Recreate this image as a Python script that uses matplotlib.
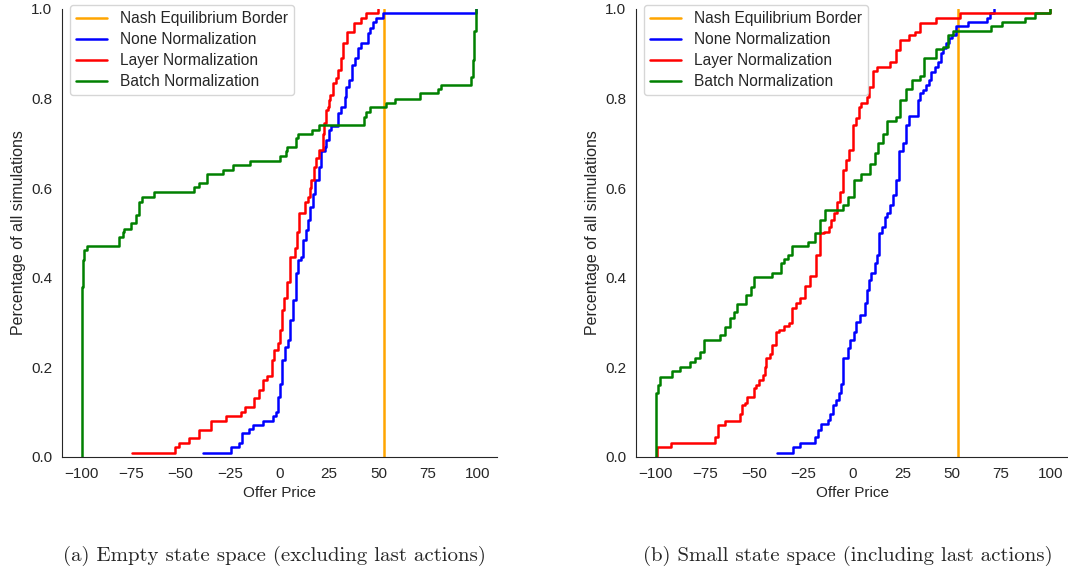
import matplotlib
matplotlib.use("Agg")
import matplotlib.pyplot as plt
import seaborn as sns

sns.set_style("white")
plt.rcParams["font.family"] = ["Liberation Sans", "DejaVu Sans"]

nash_price = 53

# (a) empty state space: step knots (offer price, cumulative share)
a_none_x = [-38.5, -24.5, -20.3, -18.9, -15.2, -13.2, -8.4, -3.4, -1.7, -0.8, 0.0, 1.4, 3.0, 4.2,
            5.1, 6.8, 8.1, 9.3, 11.0, 11.8, 13.2, 14.3, 15.5, 16.9, 18.2, 19.9, 21.1, 22.8, 23.6,
            25.0, 26.2, 29.5, 31.2, 32.9, 33.8, 35.4, 36.8, 38.0, 39.7, 41.4, 44.7, 45.6, 47.3,
            48.9, 52.3, 99.6]
a_none_y = [0.01, 0.022, 0.032, 0.053, 0.062, 0.071, 0.081, 0.092, 0.101, 0.135, 0.164, 0.217,
            0.246, 0.261, 0.306, 0.35, 0.41, 0.44, 0.447, 0.484, 0.507, 0.529, 0.559, 0.588, 0.618,
            0.648, 0.682, 0.693, 0.708, 0.73, 0.739, 0.767, 0.782, 0.804, 0.827, 0.842, 0.875,
            0.89, 0.912, 0.923, 0.946, 0.957, 0.972, 0.981, 0.99, 1.0]

a_layer_x = [-74.6, -52.7, -51.0, -45.9, -40.8, -34.6, -27.0, -19.4, -17.7, -12.7, -10.5, -8.4,
             -6.4, -3.7, -2.9, -0.8, 0.0, 1.4, 2.2, 3.9, 5.1, 7.6, 8.8, 10.1, 12.7, 14.3, 15.2,
             16.0, 17.2, 18.6, 19.9, 21.9, 22.3, 23.3, 24.5, 25.0, 25.7, 27.0, 28.4, 29.5, 30.9,
             32.1, 34.1, 37.5, 41.4, 43.5, 49.8]
a_layer_y = [0.01, 0.022, 0.032, 0.042, 0.06, 0.081, 0.092, 0.101, 0.111, 0.131, 0.15, 0.172,
             0.181, 0.217, 0.239, 0.254, 0.283, 0.328, 0.354, 0.391, 0.447, 0.466, 0.503, 0.544,
             0.57, 0.581, 0.6, 0.618, 0.648, 0.667, 0.685, 0.722, 0.745, 0.775, 0.782, 0.797,
             0.808, 0.834, 0.845, 0.864, 0.89, 0.923, 0.949, 0.968, 0.979, 0.99, 1.0]

a_batch_x = [-100.0, -100.0, -99.5, -99.0, -97.5, -81.0, -79.4, -78.5, -75.1, -72.6, -71.0, -69.5,
             -63.5, -43.0, -40.5, -36.8, -28.7, -23.6, -14.9, 0.0, 3.4, 3.9, 8.4, 9.3, 16.4,
             19.9, 42.5, 43.9, 45.6, 54.0, 58.2, 71.2, 80.2, 81.9, 97.0, 97.8, 98.6, 99.6]
a_batch_y = [0.0, 0.38, 0.44, 0.462, 0.471, 0.49, 0.503, 0.51, 0.522, 0.54, 0.57, 0.581, 0.591,
             0.602, 0.612, 0.632, 0.641, 0.652, 0.661, 0.672, 0.682, 0.693, 0.711, 0.721, 0.73,
             0.741, 0.76, 0.771, 0.782, 0.791, 0.8, 0.812, 0.821, 0.83, 0.849, 0.886, 0.95, 1.0]

# (b) small state space
b_none_x = [-38.5, -30.4, -27.0, -19.4, -17.7, -16.0, -12.7, -11.8, -10.1, -8.4, -7.1, -5.9, -5.1,
            -2.5, -1.7, 0.3, 1.7, 3.7, 5.9, 7.1, 8.1, 9.3, 11.0, 12.2, 13.2, 14.9, 16.0, 17.2,
            18.6, 20.3, 21.6, 22.0, 23.3, 25.3, 27.0, 28.4, 32.9, 33.8, 35.5, 37.2, 38.5, 39.7,
            41.4, 43.1, 44.8, 45.6, 47.0, 48.6, 50.3, 52.4, 58.3, 68.1, 69.3, 71.5]
b_none_y = [0.01, 0.022, 0.032, 0.045, 0.06, 0.074, 0.083, 0.097, 0.116, 0.127, 0.142, 0.164,
            0.222, 0.243, 0.261, 0.28, 0.302, 0.317, 0.343, 0.373, 0.395, 0.41, 0.432, 0.451,
            0.499, 0.514, 0.536, 0.544, 0.562, 0.585, 0.592, 0.618, 0.682, 0.702, 0.741, 0.761,
            0.797, 0.812, 0.819, 0.83, 0.842, 0.86, 0.871, 0.882, 0.901, 0.912, 0.923, 0.935,
            0.942, 0.962, 0.972, 0.981, 0.99, 1.0]

b_layer_x = [-100.0, -99.2, -92.1, -70.1, -68.4, -65.0, -57.4, -56.1, -54.9, -53.7, -50.3, -49.0,
             -47.6, -45.6, -44.8, -43.9, -42.2, -40.9, -39.2, -37.5, -35.1, -32.4, -30.7, -29.1,
             -27.0, -24.5, -21.6, -18.9, -16.6, -14.9, -12.2, -11.0, -9.8, -8.1, -6.8, -5.1,
             -3.4, -2.0, 0.0, 1.7, 3.0, 4.2, 7.1, 8.1, 10.1, 12.2, 18.6, 22.0, 24.0, 28.4, 31.3,
             34.1, 41.9, 54.1, 100.0]
b_layer_y = [0.0, 0.022, 0.032, 0.045, 0.071, 0.081, 0.097, 0.116, 0.121, 0.133, 0.153, 0.161,
             0.172, 0.183, 0.202, 0.22, 0.231, 0.25, 0.28, 0.283, 0.292, 0.3, 0.332, 0.343,
             0.354, 0.382, 0.403, 0.451, 0.499, 0.503, 0.514, 0.529, 0.544, 0.57, 0.592, 0.641,
             0.663, 0.685, 0.741, 0.756, 0.782, 0.791, 0.804, 0.827, 0.862, 0.871, 0.882, 0.908,
             0.931, 0.942, 0.949, 0.969, 0.981, 0.992, 1.0]

b_batch_x = [-100.0, -100.0, -98.8, -97.6, -91.6, -87.5, -82.8, -80.2, -77.7, -75.7, -67.6, -65.0,
             -62.5, -60.5, -58.8, -54.4, -51.5, -50.3, -40.9, -36.3, -35.0, -32.9, -30.7, -22.8,
             -19.4, -16.9, -14.4, -5.1, -2.5, 0.3, 4.2, 8.4, 11.0, 12.7, 15.2, 17.2, 22.0, 24.0,
             27.0, 30.1, 33.8, 36.0, 41.9, 45.6, 48.1, 50.7, 70.1, 75.7, 87.0, 92.1, 100.0]
b_batch_y = [0.0, 0.142, 0.161, 0.179, 0.193, 0.202, 0.213, 0.222, 0.235, 0.261, 0.272, 0.291,
             0.31, 0.324, 0.342, 0.362, 0.38, 0.401, 0.411, 0.432, 0.443, 0.451, 0.471, 0.481,
             0.499, 0.529, 0.551, 0.562, 0.581, 0.618, 0.632, 0.655, 0.678, 0.7, 0.722, 0.751,
             0.76, 0.797, 0.821, 0.842, 0.85, 0.89, 0.91, 0.916, 0.942, 0.952, 0.962, 0.972,
             0.981, 0.99, 1.0]

panels = [
    (a_none_x, a_none_y, a_layer_x, a_layer_y, a_batch_x, a_batch_y,
     "(a) Empty state space (excluding last actions)"),
    (b_none_x, b_none_y, b_layer_x, b_layer_y, b_batch_x, b_batch_y,
     "(b) Small state space (including last actions)"),
]

fig = plt.figure(figsize=(10.68, 5.72), dpi=100)
ax_pos = [[62 / 1068, 115 / 572, 435 / 1068, 448 / 572],
          [636 / 1068, 115 / 572, 434 / 1068, 448 / 572]]
cap_x = [274 / 1068, 848 / 1068]

for i, (nx, ny, lx, ly, bx, by, caption) in enumerate(panels):
    ax = fig.add_axes(ax_pos[i])
    ax.axvline(nash_price, color="orange", lw=1.8, label="Nash Equilibrium Border")
    ax.step(nx, ny, where="post", color="blue", lw=1.8, label="None Normalization")
    ax.step(lx, ly, where="post", color="red", lw=1.8, label="Layer Normalization")
    ax.step(bx, by, where="post", color="green", lw=1.8, label="Batch Normalization")
    ax.set_xlim(-110, 110)
    ax.set_ylim(0, 1)
    ax.set_xticks([-100, -75, -50, -25, 0, 25, 50, 75, 100])
    ax.set_yticks([0.0, 0.2, 0.4, 0.6, 0.8, 1.0])
    ax.tick_params(labelsize=11)
    ax.set_xlabel("Offer Price", fontsize=11)
    ax.set_ylabel("Percentage of all simulations", fontsize=11.5)
    ax.legend(loc="upper left", fontsize=11.2, borderaxespad=0, labelspacing=0.38,
              bbox_to_anchor=(8 / 435, 1 + 4 / 448))
    sns.despine(ax=ax)
    fig.text(cap_x[i], 16 / 572, caption, ha="center", va="center",
             fontsize=15, family="cmr10")

fig.savefig("out.png", dpi=100)
